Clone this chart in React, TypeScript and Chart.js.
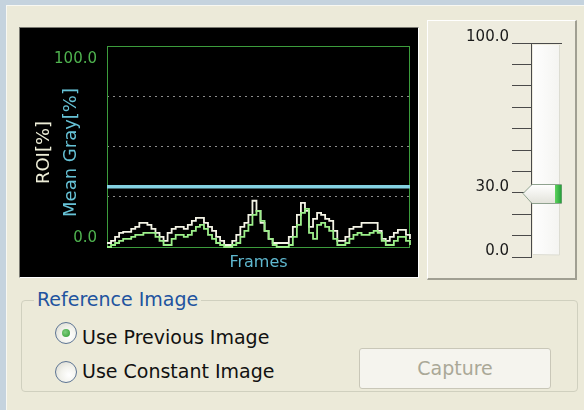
import React, { useEffect, useRef } from 'react';
import { Chart, registerables } from 'chart.js';

Chart.register(...registerables);

const FONT = '"DejaVu Sans", Tahoma, sans-serif';

// ---- data ----
const roiValues = [
  2, 3, 5, 7, 7.5, 7.5, 9, 10, 12, 12, 11, 9, 7, 5, 3, 7, 9, 10, 10, 9,
  11, 13, 14.5, 14.5, 12, 10, 8, 5, 3, 1, 1, 3, 6, 10, 12, 16, 23, 18, 12, 8,
  4, 2, 2, 2, 2, 5, 10, 16, 22, 18, 10, 14, 17, 16, 14, 13, 8, 3, 3, 5,
  9, 10, 10, 12, 12, 12, 12, 8, 4, 3, 5, 7, 8.5, 8.5, 6, 4,
];
const grayValues = [
  0, 1, 2, 3, 4, 4, 5, 6, 6, 7, 7, 7, 5, 3, 1, 1, 4, 6, 6, 5,
  6, 8, 10, 11, 9, 6, 4, 2, 1, 0, 0, 1, 2, 5, 8, 11, 16, 18, 13, 8,
  4, 1, 0, 0, 0, 1, 5, 11, 17, 19, 7, 4, 11, 12, 10, 8, 4, 1, 1, 2,
  4, 6, 7, 6, 6, 7, 8, 7, 3, 1, 1, 3, 5, 5, 3, 1,
];
const THRESHOLD = 30;
const Y_MIN = 0;
const Y_MAX = 100;
const Y_STEP = 25;
const Y_TICK_LABELS = [0, 100];
const Y_TITLE_ROI = 'ROI[%]';
const Y_TITLE_GRAY = 'Mean Gray[%]';
const X_TITLE = 'Frames';

const SLIDER_VALUE = 30;
const SLIDER_STEP = 10;
const SLIDER_LABELS = [0, 30, 100];

const frames = roiValues.map((_, i) => String(i + 1));

const mainDecor = {
  id: 'mainDecor',
  beforeDatasetsDraw(chart: any) {
    const { ctx, chartArea: a } = chart;
    ctx.save();
    ctx.strokeStyle = '#3c9c3c';
    ctx.lineWidth = 1;
    ctx.strokeRect(a.left + 0.5, a.top + 0.5, a.right - a.left - 1, a.bottom - a.top);
    ctx.restore();
  },
  afterDraw(chart: any) {
    const { ctx, chartArea: a } = chart;
    const y = chart.scales.y;
    ctx.save();
    ctx.font = `15px ${FONT}`;
    ctx.fillStyle = '#4fb34f';
    ctx.textAlign = 'right';
    ctx.textBaseline = 'middle';
    Y_TICK_LABELS.forEach((v) => {
      const py = y.getPixelForValue(v);
      const off = v === Y_MAX ? 13 : -9;
      ctx.fillText(v.toFixed(1), a.left - 10, py + off);
    });
    const cy = (a.top + a.bottom) / 2 + 6;
    ctx.font = `18px ${FONT}`;
    ctx.textAlign = 'center';
    ctx.save();
    ctx.translate(a.left - 63, cy);
    ctx.rotate(-Math.PI / 2);
    ctx.fillStyle = '#eeeed8';
    ctx.fillText(Y_TITLE_ROI, 0, 0);
    ctx.restore();
    ctx.save();
    ctx.translate(a.left - 36, cy);
    ctx.rotate(-Math.PI / 2);
    ctx.fillStyle = '#66c2d6';
    ctx.fillText(Y_TITLE_GRAY, 0, 0);
    ctx.restore();
    ctx.restore();
  },
};

const sliderDecor = {
  id: 'sliderDecor',
  beforeDatasetsDraw(chart: any) {
    const { ctx, chartArea: a } = chart;
    ctx.save();
    const g = ctx.createLinearGradient(a.left, 0, a.right, 0);
    g.addColorStop(0, '#ffffff');
    g.addColorStop(1, '#f3f3f0');
    ctx.fillStyle = g;
    ctx.fillRect(a.left + 2, a.top + 2, a.right - a.left - 5, a.bottom - a.top - 4);
    ctx.strokeStyle = '#dcdcd2';
    ctx.lineWidth = 1;
    ctx.beginPath();
    ctx.moveTo(a.right - 2.5, a.top + 2);
    ctx.lineTo(a.right - 2.5, a.bottom - 2);
    ctx.lineTo(a.left + 2, a.bottom - 2.5);
    ctx.stroke();
    ctx.restore();
  },
  afterDatasetsDraw(chart: any) {
    const { ctx, chartArea: a } = chart;
    const v = chart.data.datasets[0].data[0];
    const y = Math.round(chart.scales.y.getPixelForValue(v)) + 0.5;
    const l = a.left;
    const r = a.right;
    ctx.save();
    const g = ctx.createLinearGradient(0, y - 9, 0, y + 10);
    g.addColorStop(0, '#ffffff');
    g.addColorStop(1, '#e2e2da');
    ctx.beginPath();
    ctx.moveTo(l - 8, y);
    ctx.lineTo(l + 1, y - 9);
    ctx.lineTo(r - 0.5, y - 9);
    ctx.lineTo(r - 0.5, y + 10);
    ctx.lineTo(l + 1, y + 10);
    ctx.closePath();
    ctx.fillStyle = g;
    ctx.fill();
    ctx.strokeStyle = '#8fa28f';
    ctx.lineWidth = 1;
    ctx.stroke();
    const gg = ctx.createLinearGradient(r - 7, 0, r, 0);
    gg.addColorStop(0, '#5ed35e');
    gg.addColorStop(1, '#1f9a35');
    ctx.fillStyle = gg;
    ctx.fillRect(r - 7, y - 8.5, 6.5, 18);
    ctx.restore();
  },
};

export default function App() {
  const mainRef = useRef<HTMLCanvasElement>(null);
  const sliderRef = useRef<HTMLCanvasElement>(null);

  useEffect(() => {
    const main = new Chart(mainRef.current as HTMLCanvasElement, {
      type: 'line',
      data: {
        labels: frames,
        datasets: [
          {
            label: 'Threshold',
            data: frames.map(() => THRESHOLD),
            borderColor: '#84d2e2',
            borderWidth: 3.5,
            pointRadius: 0,
            clip: 6,
          },
          {
            label: 'Mean Gray',
            data: grayValues,
            borderColor: '#9cef8a',
            borderWidth: 1.8,
            pointRadius: 0,
            stepped: true,
            clip: 6,
          },
          {
            label: 'ROI',
            data: roiValues,
            borderColor: '#f4f4e6',
            borderWidth: 1.8,
            pointRadius: 0,
            stepped: true,
            clip: 6,
          },
        ],
      } as any,
      options: {
        animation: false,
        responsive: false,
        events: [],
        layout: { padding: { top: 18, right: 8, left: 0, bottom: 0 } },
        plugins: { legend: { display: false }, tooltip: { enabled: false } },
        scales: {
          x: {
            ticks: { display: false },
            grid: { display: false },
            border: { display: false },
            title: {
              display: true,
              text: X_TITLE,
              color: '#5fb8cf',
              font: { family: FONT, size: 16 },
              padding: { top: 0, bottom: 5 },
            },
            afterFit: (s: any) => {
              s.height = 30;
            },
          },
          y: {
            min: Y_MIN,
            max: Y_MAX,
            ticks: { display: false, stepSize: Y_STEP },
            grid: {
              drawTicks: false,
              lineWidth: 1,
              color: (c: any) =>
                c.tick && c.tick.value > Y_MIN && c.tick.value < Y_MAX ? '#8c8c8c' : 'rgba(0,0,0,0)',
            },
            border: { display: false, dash: [2, 4] },
            afterFit: (s: any) => {
              s.width = 87;
            },
          },
        },
      } as any,
      plugins: [mainDecor],
    });

    const slider = new Chart(sliderRef.current as HTMLCanvasElement, {
      type: 'bar',
      data: {
        labels: [''],
        datasets: [
          {
            label: 'Level',
            data: [SLIDER_VALUE],
            backgroundColor: 'rgba(0,0,0,0)',
          },
        ],
      },
      options: {
        animation: false,
        responsive: false,
        events: [],
        layout: { padding: { top: 22, bottom: 22, right: 14, left: 0 } },
        plugins: { legend: { display: false }, tooltip: { enabled: false } },
        scales: {
          x: { display: false },
          y: {
            min: Y_MIN,
            max: Y_MAX,
            ticks: {
              stepSize: SLIDER_STEP,
              autoSkip: false,
              padding: 3,
              labelOffset: -6,
              color: '#1a1a1a',
              font: { family: FONT, size: 15 },
              callback: (v: any) => (SLIDER_LABELS.includes(Number(v)) ? Number(v).toFixed(1) : ''),
            },
            grid: {
              drawOnChartArea: true,
              tickLength: 19,
              color: (c: any) => (c.tick && c.tick.value === Y_MAX ? '#4a4a4a' : 'rgba(0,0,0,0)'),
              tickColor: '#4a4a4a',
            },
            border: { display: true, color: '#4a4a4a', width: 1 },
            afterFit: (s: any) => {
              s.width = 103;
            },
          },
        },
      } as any,
      plugins: [sliderDecor],
    });

    return () => {
      main.destroy();
      slider.destroy();
    };
  }, []);

  const abs = (l: number, t: number, w: number, h: number): React.CSSProperties => ({
    position: 'absolute',
    left: l,
    top: t,
    width: w,
    height: h,
    boxSizing: 'border-box',
  });

  const radio: React.CSSProperties = {
    position: 'absolute',
    width: 22,
    height: 22,
    borderRadius: '50%',
    boxSizing: 'border-box',
    border: '1px solid #5d7594',
    background: 'radial-gradient(circle at 65% 65%, #ffffff 0%, #f2f2ec 45%, #d6d6cc 100%)',
  };

  return (
    <div
      style={{
        position: 'fixed',
        left: 0,
        top: 0,
        width: 584,
        height: 410,
        background: '#ecead9',
        overflow: 'hidden',
        fontFamily: FONT,
      }}
    >
      {/* window frame */}
      <div style={{ ...abs(0, 0, 584, 5), background: '#c5d3de' }} />
      <div style={{ ...abs(0, 0, 6, 410), background: '#c5d3de' }} />
      <div style={{ ...abs(6, 5, 578, 405), borderTop: '1px solid #f8f8f2', borderLeft: '1px solid #f8f8f2' }} />

      {/* chart panel */}
      <div
        style={{
          ...abs(19, 27, 400, 251),
          borderTop: '1px solid #7a7a72',
          borderLeft: '1px solid #7a7a72',
          borderBottom: '1px solid #ffffff',
          borderRight: '1px solid #ffffff',
          background: '#000',
        }}
      />
      <canvas
        ref={mainRef}
        width={398}
        height={249}
        style={{ position: 'absolute', left: 20, top: 28, width: 398, height: 249, background: '#000' }}
      />

      {/* slider panel */}
      <div
        style={{
          ...abs(427, 20, 150, 260),
          borderTop: '1px solid #ffffff',
          borderLeft: '1px solid #ffffff',
          borderBottom: '2px solid #a09f92',
          borderRight: '2px solid #a09f92',
          background: '#eeecdf',
        }}
      />
      <canvas
        ref={sliderRef}
        width={148}
        height={258}
        style={{ position: 'absolute', left: 428, top: 21, width: 148, height: 258 }}
      />

      {/* group box */}
      <div style={{ ...abs(21, 300, 557, 92), border: '1px solid #d0d0bf', borderRadius: 4 }} />
      <div
        style={{
          position: 'absolute',
          left: 34,
          top: 288,
          padding: '0 3px',
          background: '#ecead9',
          color: '#21539f',
          fontSize: 19,
          lineHeight: '22px',
          whiteSpace: 'nowrap',
        }}
      >
        Reference Image
      </div>

      <div style={{ ...radio, left: 55, top: 322 }}>
        <div
          style={{
            position: 'absolute',
            left: 6,
            top: 6,
            width: 8,
            height: 8,
            borderRadius: '50%',
            background: 'radial-gradient(circle at 40% 40%, #7fd07f 0%, #2f9a2f 100%)',
          }}
        />
      </div>
      <div
        style={{
          position: 'absolute',
          left: 82,
          top: 326,
          fontSize: 19,
          lineHeight: '22px',
          color: '#111',
          whiteSpace: 'nowrap',
        }}
      >
        Use Previous Image
      </div>

      <div style={{ ...radio, left: 55, top: 361 }} />
      <div
        style={{
          position: 'absolute',
          left: 82,
          top: 360,
          fontSize: 19,
          lineHeight: '22px',
          color: '#111',
          whiteSpace: 'nowrap',
        }}
      >
        Use Constant Image
      </div>

      <div
        style={{
          ...abs(359, 348, 192, 41),
          border: '1px solid #c9c7b8',
          borderRadius: 3,
          background: '#f5f4ee',
          color: '#aaa897',
          fontSize: 19,
          lineHeight: '39px',
          textAlign: 'center',
        }}
      >
        Capture
      </div>
    </div>
  );
}
